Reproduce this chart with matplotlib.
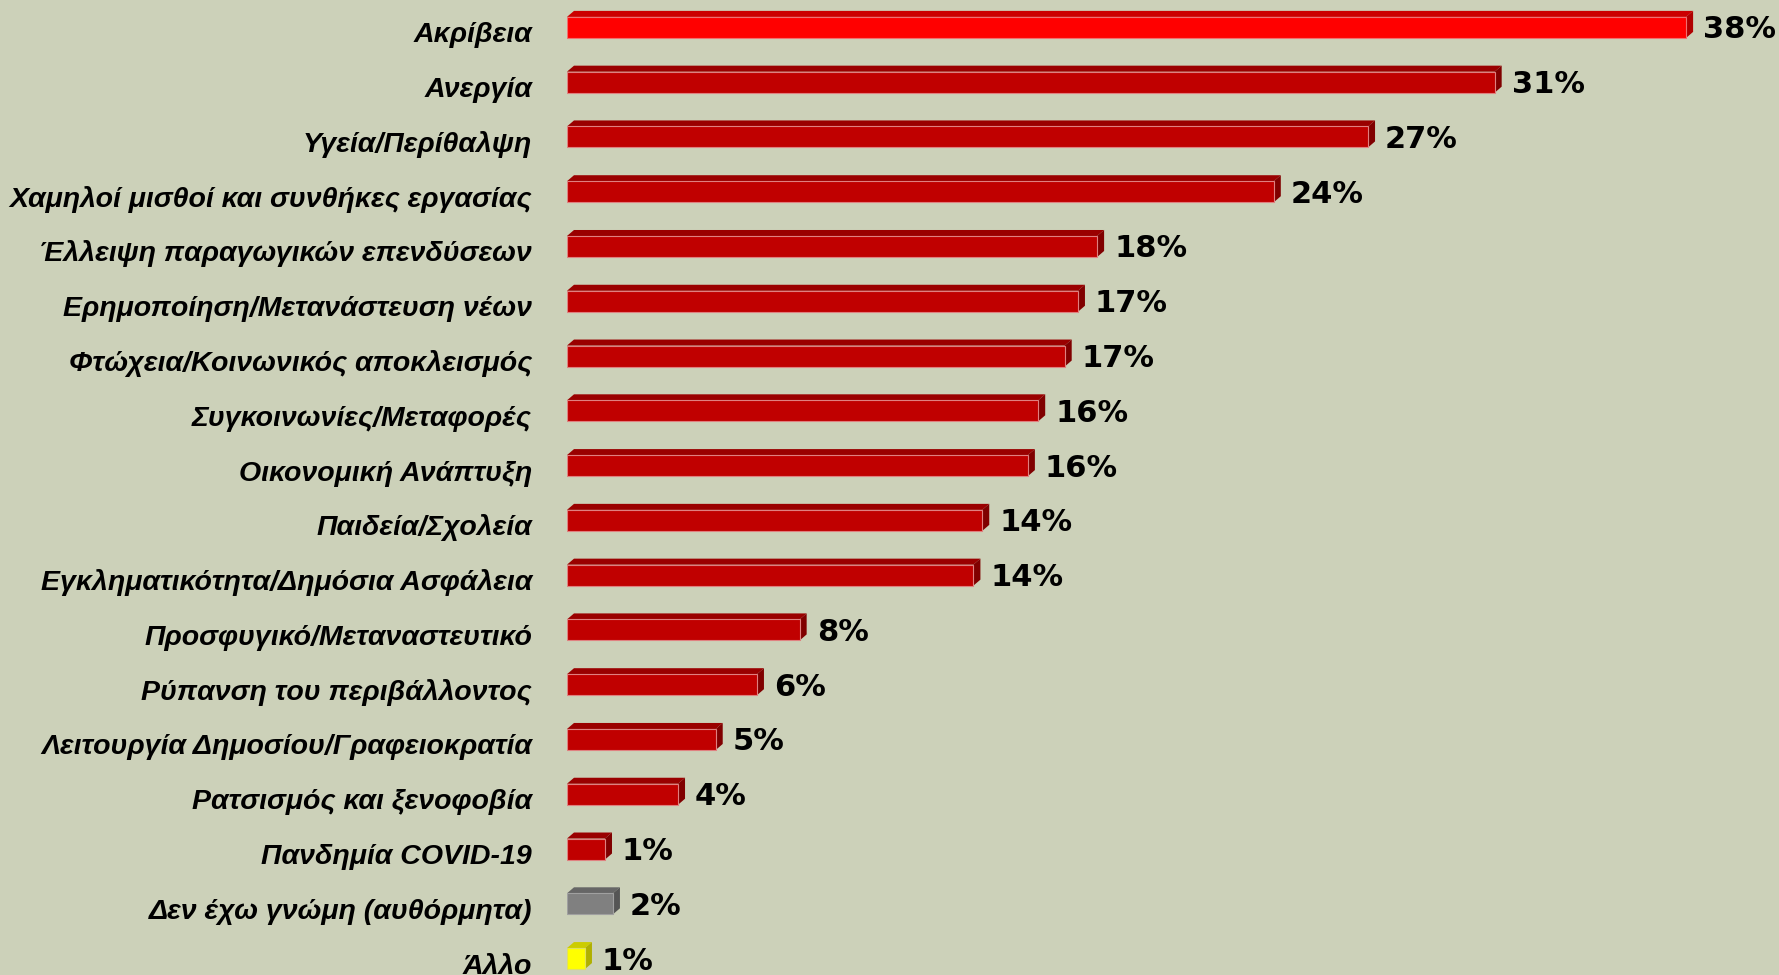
import matplotlib
matplotlib.use("Agg")
import matplotlib.pyplot as plt
from matplotlib.patches import Polygon
from matplotlib.transforms import offset_copy

categories = [
    "Ακρίβεια", "Ανεργία", "Υγεία/Περίθαλψη", "Χαμηλοί μισθοί και συνθήκες εργασίας",
    "Έλλειψη παραγωγικών επενδύσεων", "Ερημοποίηση/Μετανάστευση νέων",
    "Φτώχεια/Κοινωνικός αποκλεισμός", "Συγκοινωνίες/Μεταφορές", "Οικονομική Ανάπτυξη",
    "Παιδεία/Σχολεία", "Εγκληματικότητα/Δημόσια Ασφάλεια", "Προσφυγικό/Μεταναστευτικό",
    "Ρύπανση του περιβάλλοντος", "Λειτουργία Δημοσίου/Γραφειοκρατία",
    "Ρατσισμός και ξενοφοβία", "Πανδημία COVID-19", "Δεν έχω γνώμη (αυθόρμητα)", "Άλλο",
]
values = [38.0, 31.5, 27.2, 24.0, 18.0, 17.35, 16.9, 16.0, 15.65, 14.1, 13.8,
          7.9, 6.45, 5.05, 3.77, 1.29, 1.56, 0.61]
value_labels = [38, 31, 27, 24, 18, 17, 17, 16, 16, 14, 14, 8, 6, 5, 4, 1, 2, 1]
kinds = ["top"] + ["red"] * 15 + ["grey", "yellow"]

palette = {
    "top":    ("#FF0000", "#CC0000", "#B00000", "#F07070"),
    "red":    ("#C00000", "#9A0000", "#800000", "#E08080"),
    "grey":   ("#808080", "#666666", "#555555", "#A0A0A0"),
    "yellow": ("#FFFF00", "#CCCC00", "#B0B000", "#E0E060"),
}

bg = "#CCD1B9"
W, H = 1779, 975
px_per_unit = 29.45
left_px = 567

fig = plt.figure(figsize=(W / 100, H / 100), dpi=100)
fig.patch.set_facecolor(bg)
ax = fig.add_axes([left_px / W, 0, (W - left_px) / W, 1])
ax.set_facecolor(bg)
ax.set_xlim(0, (W - left_px) / px_per_unit)
ax.set_ylim(17.3, -0.5)
ax.axis("off")

row_px = H / 17.8
h = 21 / row_px          # front face height (rows)
dx = 7 / px_per_unit     # depth in x (units)
dy = 6 / row_px          # depth in y (rows)

ys = list(range(len(categories)))
for y, v, k in zip(ys, values, kinds):
    front, topc, side, edge = palette[k]
    ax.barh(y, v, height=h, color=front, edgecolor=edge, linewidth=0.8, zorder=3)
    t = y - h / 2
    b = y + h / 2
    ax.add_patch(Polygon([(0, t), (dx, t - dy), (v + dx, t - dy), (v, t)],
                         closed=True, facecolor=topc, edgecolor="none", zorder=2))
    ax.add_patch(Polygon([(v, t), (v + dx, t - dy), (v + dx, b - dy), (v, b)],
                         closed=True, facecolor=side, edgecolor="none", zorder=2))

cat_tr = offset_copy(ax.transData, fig=fig, x=-35, y=-15, units="dots")
for y, c in zip(ys, categories):
    ax.text(0, y, c, transform=cat_tr, ha="right", va="baseline",
            fontsize=20.5, fontstyle="italic", fontweight="bold",
            family=["Liberation Sans", "DejaVu Sans"], color="black")

val_tr = offset_copy(ax.transData, fig=fig, x=10, y=-11, units="dots")
for y, v, lab in zip(ys, values, value_labels):
    ax.text(v + dx, y, f"{lab}%", transform=val_tr, ha="left", va="baseline",
            fontsize=22, fontweight="bold", family=["DejaVu Sans"], color="black")

fig.savefig("out.png", dpi=100, facecolor=bg)
